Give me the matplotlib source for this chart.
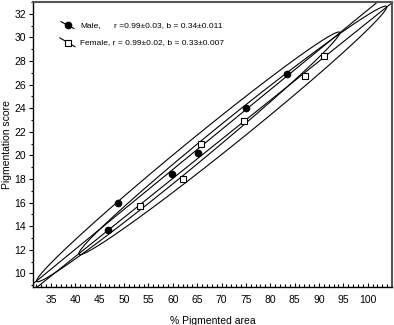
import numpy as np
import matplotlib
matplotlib.use("Agg")
import matplotlib.pyplot as plt
from matplotlib.ticker import MultipleLocator

plt.rcParams['font.family'] = ['Liberation Sans Narrow', 'Liberation Sans', 'DejaVu Sans']

# Data
male_x = [46.7, 48.7, 59.75, 65.2, 75.1, 83.5]
male_y = [13.7, 16.0, 18.45, 20.2, 24.0, 26.9]
female_x = [53.25, 62.1, 65.7, 74.6, 87.1, 91.0]
female_y = [15.7, 18.0, 21.0, 22.9, 26.7, 28.4]
male_label = "r =0.99\u00b10.03, b = 0.34\u00b10.011"
female_label = "Female, r = 0.99\u00b10.02, b = 0.33\u00b10.007"
x_ticks = [35, 40, 45, 50, 55, 60, 65, 70, 75, 80, 85, 90, 95, 100]
y_ticks = [10, 12, 14, 16, 18, 20, 22, 24, 26, 28, 30, 32]

# ellipse coverage (90 %)
k_ell = np.sqrt(-2 * np.log(0.1))


def ellipse(x, y, k):
    x = np.asarray(x)
    y = np.asarray(y)
    cov = np.cov(x, y)
    L = np.linalg.cholesky(cov)
    t = np.linspace(0, 2 * np.pi, 400)
    circ = np.vstack([np.cos(t), np.sin(t)])
    pts = L @ circ * k
    return x.mean() + pts[0], y.mean() + pts[1]


fig = plt.figure(figsize=(3.94, 3.25), dpi=100)
ax = fig.add_axes([33 / 394, 1 - 287 / 325, 359 / 394, 285 / 325])
ax.set_xlim(31.3, 105)
ax.set_ylim(8.85, 33)

xline = np.array([25, 115])
for gx, gy in [(male_x, male_y), (female_x, female_y)]:
    b, a = np.polyfit(gx, gy, 1)
    ax.plot(xline, a + b * xline, color='black', lw=0.8, zorder=2)
    ex, ey = ellipse(gx, gy, k_ell)
    ax.plot(ex, ey, color='black', lw=0.8, zorder=2)

ax.plot(male_x, male_y, 'o', color='black', ms=4.5, zorder=4)
ax.plot(female_x, female_y, 's', mfc='white', mec='black', mew=0.8, ms=5, zorder=4)

# legend drawn by hand (diagonal symbol strokes)
tr = ax.transAxes
ax.plot([0.078, 0.114], [0.931, 0.907], color='black', lw=0.8, transform=tr)
ax.plot([0.0967], [0.919], 'o', color='black', ms=4.5, transform=tr)
ax.text(0.131, 0.919, "Male,", fontsize=6.0, va='center', transform=tr)
ax.text(0.2256, 0.919, male_label, fontsize=6.0, va='center', transform=tr)
ax.plot([0.075, 0.117], [0.874, 0.843], color='black', lw=0.8, transform=tr)
ax.plot([0.0975], [0.857], 's', mfc='white', mec='black', mew=0.8, ms=5, transform=tr)
ax.text(0.131, 0.857, female_label, fontsize=6.0, va='center', transform=tr)

ax.set_xticks(x_ticks)
ax.set_yticks(y_ticks)
ax.xaxis.set_minor_locator(MultipleLocator(1))
ax.yaxis.set_minor_locator(MultipleLocator(1))
ax.tick_params(axis='x', which='both', direction='in', labelsize=7.5, pad=6)
ax.tick_params(axis='x', which='major', length=3, width=0.8)
ax.tick_params(axis='x', which='minor', length=2, width=0.8)
ax.tick_params(axis='y', which='both', direction='out', labelsize=7.5, pad=2)
ax.tick_params(axis='y', which='major', length=3, width=0.8)
ax.tick_params(axis='y', which='minor', length=1.5, width=0.8)

for s in ['left', 'bottom']:
    ax.spines[s].set_linewidth(1.0)
for s in ['top', 'right']:
    ax.spines[s].set_linewidth(1.5)
    ax.spines[s].set_color('#555555')

ax.set_xlabel("% Pigmented area", fontsize=7.5)
ax.set_ylabel("Pigmentation score", fontsize=7.5)
ax.xaxis.set_label_coords(0.5, -0.1)
ax.yaxis.set_label_coords(-0.058, 0.5)

fig.savefig("out.png", dpi=100)
